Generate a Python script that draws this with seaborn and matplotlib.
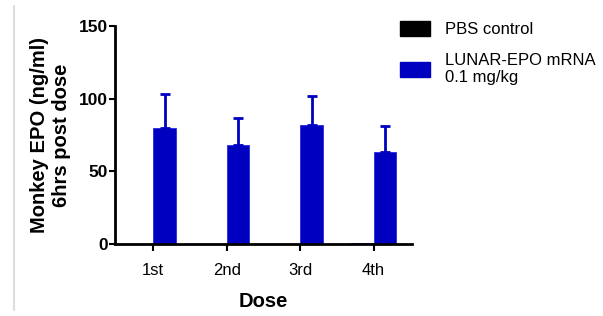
import matplotlib
matplotlib.use("Agg")
import matplotlib.pyplot as plt
import seaborn as sns
import pandas as pd
from matplotlib.patches import Patch
from matplotlib.lines import Line2D

doses = ["1st", "2nd", "3rd", "4th"]
groups = ["PBS control", "LUNAR-EPO mRNA\n0.1 mg/kg"]
pbs_values = [0.0, 0.0, 0.0, 1.0]
pbs_errors = [0.0, 0.0, 0.0, 0.0]
epo_values = [80, 68, 82, 63]
epo_errors = [23, 19, 20, 18]
colors = ["#000000", "#0000C0"]

df = pd.DataFrame({
    "Dose": doses * 2,
    "Group": [groups[0]] * 4 + [groups[1]] * 4,
    "Value": pbs_values + epo_values,
})

sns.set_style("ticks")
plt.rcParams["font.family"] = ["Liberation Sans", "DejaVu Sans"]
plt.rcParams["text.color"] = "black"
plt.rcParams["axes.labelcolor"] = "black"
plt.rcParams["xtick.color"] = "black"
plt.rcParams["ytick.color"] = "black"
plt.rcParams["axes.edgecolor"] = "black"

fig = plt.figure(figsize=(6.03, 3.16), dpi=100)
ax = fig.add_axes([0.1907, 0.2278, 0.683 - 0.1907, 0.9177 - 0.2278])

sns.barplot(data=df, x="Dose", y="Value", hue="Group", order=doses,
            hue_order=groups, palette=colors, width=0.62, errorbar=None,
            saturation=1, ax=ax, legend=False, edgecolor="#2828E0",
            linewidth=0.6)

for cont, errs, col in zip(ax.containers, [pbs_errors, epo_errors], colors):
    for bar, e in zip(cont, errs):
        if e <= 0:
            continue
        x = bar.get_x() + bar.get_width() / 2
        h = bar.get_height()
        ax.errorbar([x], [h], yerr=[[0], [e]], fmt="none", ecolor=col,
                    elinewidth=2, capsize=3.5, capthick=2)

ax.set_xlim(-0.52, 3.52)
ax.set_ylim(0, 150)
ax.set_yticks([0, 50, 100, 150])
ax.set_yticklabels(["0", "50", "100", "150"], fontweight="bold", fontsize=12.5)
ax.tick_params(axis="x", labelsize=12, width=1.5, length=5, pad=9)
ax.tick_params(axis="y", width=1.5, length=4, pad=1)
for s in ["left", "bottom"]:
    ax.spines[s].set_linewidth(2)
sns.despine(ax=ax)

ax.set_xlabel("Dose", fontsize=14.5, fontweight="bold", labelpad=10)
ax.set_ylabel("Monkey EPO (ng/ml)\n6hrs post dose", fontsize=14.5,
              fontweight="bold", labelpad=6)

handles = [Patch(facecolor=c, edgecolor=c) for c in colors]
fig.legend(handles, groups, loc="upper left", bbox_to_anchor=(0.652, 0.955),
           frameon=False, fontsize=12, handlelength=1.8, handleheight=1.0,
           labelspacing=0.95, borderaxespad=0, handletextpad=0.9)

fig.add_artist(Line2D([14 / 603, 14 / 603], [0.02, 0.98], color="#DDDDDD",
                      linewidth=1.5, transform=fig.transFigure))

fig.savefig("out.png", dpi=100)
